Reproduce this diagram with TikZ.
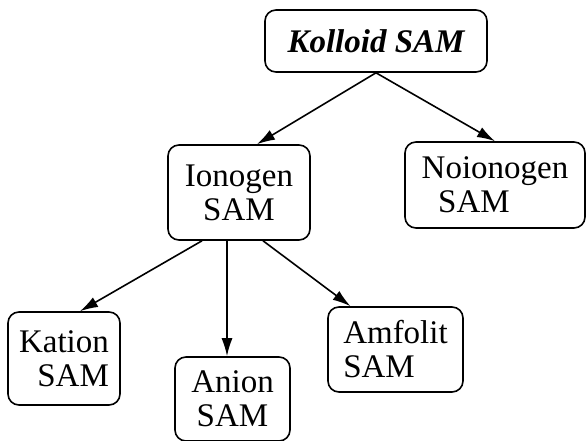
\documentclass[tikz,border=0pt]{standalone}
\usepackage{fontspec}
\setmainfont{Liberation Serif}
\usetikzlibrary{arrows.meta,positioning}

\begin{document}
\begin{tikzpicture}[x=1pt, y=-1pt,
    every node/.style={font=\fontsize{33}{34}\selectfont},
    box/.style={draw, rounded corners=11pt, line width=1.6pt, inner sep=0pt}]
  \useasboundingbox (0,0) rectangle (586,441);
  \node[box, minimum width=222pt, minimum height=62pt,
    font=\fontsize{33}{34}\selectfont\bfseries\itshape] (kolloid) at (376,41) {Kolloid SAM};
  \node[box, align=center, minimum width=142pt, minimum height=95pt] (ionogen) at (239,192.5) {Ionogen\\SAM};
  \node[box, align=left, minimum width=180pt, minimum height=86pt] (noionogen) at (495,185) {Noionogen\\\hspace{0.5em}SAM};
  \node[box, align=right, minimum width=112pt, minimum height=93pt] (kation) at (64,358.5) {Kation\\SAM};
  \node[box, align=center, minimum width=115pt, minimum height=84pt] (anion) at (232.5,399) {Anion\\SAM};
  \node[box, align=left, minimum width=135pt, minimum height=85pt] (amfolit) at (395.5,349.5) {Amfolit\\SAM};

  \path[-{Latex[length=18pt,width=11pt]}, line width=1.6pt]
    (kolloid.south) edge ([xshift=18pt]ionogen.north)
    (kolloid.south) edge (noionogen.north)
    ([xshift=-37pt]ionogen.south) edge ([xshift=16pt]kation.north)
    ([xshift=-12pt]ionogen.south) edge ([xshift=-12pt]ionogen.south |- anion.north)
    ([xshift=24pt]ionogen.south) edge ([xshift=-45pt]amfolit.north);
\end{tikzpicture}
\end{document}
